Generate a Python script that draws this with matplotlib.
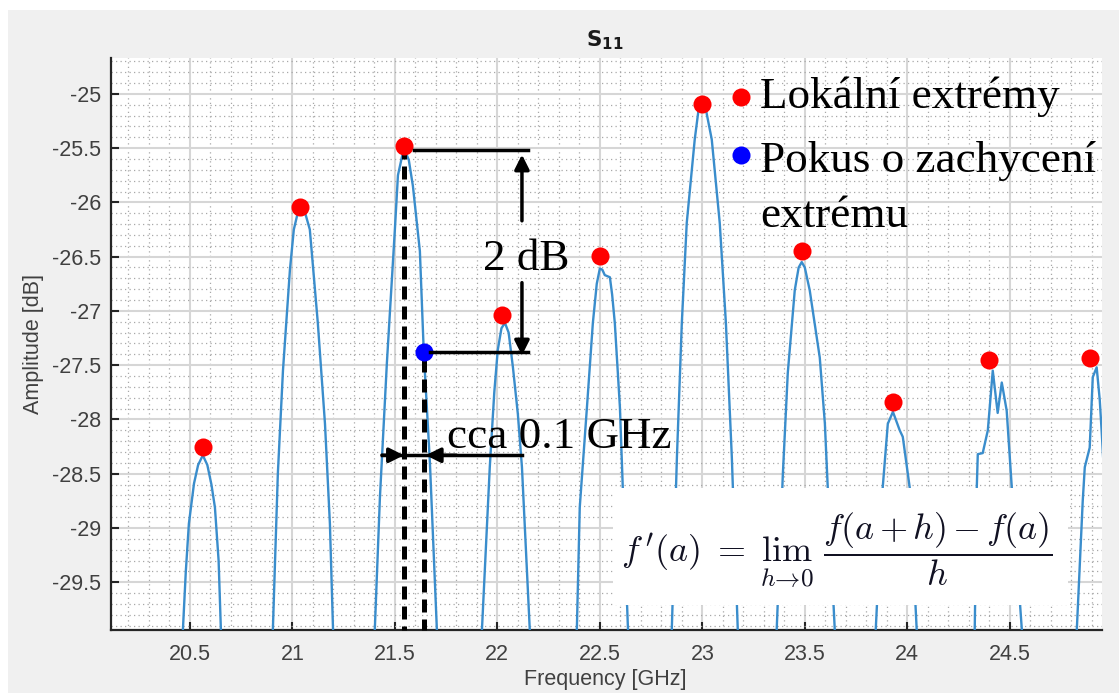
import matplotlib
matplotlib.use("Agg")
import matplotlib.pyplot as plt
from matplotlib.patches import Rectangle
from matplotlib.ticker import MultipleLocator, FixedLocator

# S11 trace (GHz, dB); troughs fall below the axis
freq_ghz = [
    20.40,
    20.466, 20.480, 20.495, 20.520, 20.540, 20.563, 20.585, 20.605, 20.622, 20.640, 20.651,
    20.78,
    20.905, 20.929, 20.954, 20.988, 21.007, 21.032, 21.061, 21.085, 21.124, 21.159, 21.183, 21.198,
    21.30,
    21.402, 21.427, 21.461, 21.500, 21.515, 21.544, 21.568, 21.588, 21.622, 21.641, 21.671, 21.705,
    21.81,
    21.924, 21.963, 21.985, 22.002, 22.020, 22.037, 22.055, 22.076, 22.100, 22.120, 22.159,
    22.27,
    22.388, 22.402, 22.437, 22.466, 22.485, 22.500, 22.512, 22.524, 22.549, 22.560, 22.573,
    22.598, 22.612, 22.637,
    22.74,
    22.851, 22.876, 22.900, 22.924, 22.963, 22.980, 23.002, 23.020, 23.046, 23.085, 23.115,
    23.144, 23.173,
    23.27,
    23.363, 23.393, 23.417, 23.451, 23.470, 23.485, 23.500, 23.524, 23.573, 23.598, 23.612, 23.646,
    23.75,
    23.846, 23.880, 23.905, 23.930, 23.963, 23.978, 24.012, 24.046,
    24.19,
    24.329, 24.339, 24.344, 24.368, 24.393, 24.417, 24.441, 24.461, 24.485, 24.510, 24.559,
    24.69,
    24.827, 24.856, 24.866, 24.890, 24.905, 24.924, 24.939, 24.949, 24.960,
]
amp_db = [
    -33.0,
    -29.93, -29.40, -28.96, -28.59, -28.42, -28.33, -28.42, -28.60, -28.81, -29.30, -29.93,
    -34.0,
    -29.92, -28.50, -27.55, -26.62, -26.25, -26.05, -26.09, -26.25, -27.11, -28.04, -28.96, -29.92,
    -34.0,
    -29.94, -28.72, -27.48, -26.25, -25.75, -25.50, -25.61, -25.85, -26.45, -27.38, -28.40, -29.94,
    -34.0,
    -29.97, -28.44, -27.75, -27.36, -27.16, -27.11, -27.20, -27.52, -27.95, -28.44, -29.97,
    -34.0,
    -29.92, -28.81, -27.89, -27.11, -26.75, -26.61, -26.62, -26.67, -26.69, -26.85, -27.11,
    -27.89, -28.63, -29.92,
    -34.0,
    -29.94, -28.35, -27.11, -26.19, -25.42, -25.17, -25.12, -25.17, -25.42, -26.19, -27.11,
    -28.35, -29.94,
    -34.0,
    -29.93, -28.50, -27.57, -26.81, -26.60, -26.55, -26.60, -26.81, -27.43, -28.04, -28.63, -29.93,
    -34.0,
    -29.94, -28.63, -28.04, -27.93, -28.10, -28.16, -28.63, -29.94,
    -34.0,
    -29.94, -28.63, -28.32, -28.31, -28.10, -27.55, -27.94, -27.66, -27.92, -28.63, -29.94,
    -34.0,
    -29.94, -28.75, -28.44, -28.26, -27.61, -27.52, -27.82, -28.13, -28.50,
]

# manually placed markers
peak_f = [20.563, 21.037, 21.544, 22.022, 22.500, 22.998, 23.485, 23.930, 24.400, 24.890]
peak_db = [-28.25, -26.04, -25.48, -27.04, -26.49, -25.09, -26.45, -27.84, -27.45, -27.43]
probe_f = [21.641]
probe_db = [-27.38]

xticks = [20.5, 21, 21.5, 22, 22.5, 23, 23.5, 24, 24.5]
yticks = [-29.5, -29, -28.5, -28, -27.5, -27, -26.5, -26, -25.5, -25]
xlim = (20.115, 24.95)
ylim = (-29.94, -24.67)

legend_text = ["Lokální extrémy", "Pokus o zachycení", "extrému"]
dy_label = "2 dB"
df_label = "cca 0.1 GHz"
formula = r"$f\,'(a) \;=\; \lim_{h\to 0}\ \dfrac{f(a\,+\,h)\,-\,f(a)}{h}$"

serif = "Liberation Serif"
sans = "Liberation Sans"
txt_col = "#404040"
axis_col = "#262626"

fig = plt.figure(figsize=(11.19, 6.93), dpi=100)
fig.patch.set_facecolor("white")
fig.patches.append(Rectangle((8 / 1119, 0), 1, 1 - 10 / 693, transform=fig.transFigure,
                             facecolor="#F0F0F0", edgecolor="none", zorder=-10))

ax = fig.add_axes([111 / 1119, 1 - 630 / 693, (1102 - 111) / 1119, (630 - 58) / 693])
ax.set_facecolor("white")

ax.plot(freq_ghz, amp_db, color="#3A8DCC", lw=1.7, zorder=3)
ax.plot(peak_f, peak_db, "o", color="#FF0000", ms=13, mec="none", zorder=6)
ax.plot(probe_f, probe_db, "o", color="#0000FF", ms=13, mec="none", zorder=6)

ax.set_xlim(*xlim)
ax.set_ylim(*ylim)
ax.xaxis.set_major_locator(FixedLocator(xticks))
ax.yaxis.set_major_locator(FixedLocator(yticks))
ax.set_xticklabels([f"{t:g}" for t in xticks], family=sans)
ax.set_yticklabels([f"{t:g}" for t in yticks], family=sans)
ax.xaxis.set_minor_locator(MultipleLocator(0.1))
ax.yaxis.set_minor_locator(MultipleLocator(0.1))

ax.grid(which="major", color="#D6D6D6", lw=1.5, zorder=0)
ax.grid(which="minor", color="#A8A8A8", lw=0.9, ls=(0, (1, 2.6)), zorder=0)
ax.set_axisbelow(True)

for s in ["top", "right"]:
    ax.spines[s].set_visible(False)
for s in ["left", "bottom"]:
    ax.spines[s].set_color(axis_col)
    ax.spines[s].set_linewidth(1.6)
ax.tick_params(which="major", direction="in", length=6, width=1.5, color=axis_col,
               labelsize=15.5, labelcolor=txt_col)
ax.tick_params(axis="y", pad=7)
ax.tick_params(axis="x", pad=10)
ax.tick_params(which="minor", length=0)

ax.set_xlabel("Frequency [GHz]", fontsize=15.5, color=txt_col, family=sans)
ax.set_ylabel("Amplitude [dB]", fontsize=15.5, color=txt_col, family=sans)
ax.xaxis.set_label_coords(0.4985, -0.068)
ax.yaxis.set_label_coords(-0.068, 0.5)

fig.text(605 / 1119, 1 - 40 / 693, r"$\mathbf{S_{11}}$", ha="center", va="center",
         fontsize=15.5, color="#1a1a1a", math_fontfamily="dejavusans")

# annotation: 2 dB drop between the peak and the probe point
pk_f, pk_db = peak_f[2], peak_db[2]
pr_f, pr_db = probe_f[0], probe_db[0]
bar_end = 22.15
ax.plot([pk_f + 0.05, bar_end], [pk_db - 0.04, pk_db - 0.04], color="k", lw=2.5, zorder=7)
ax.plot([pr_f + 0.03, bar_end], [pr_db, pr_db], color="k", lw=2.5, zorder=7)
arrow = dict(arrowstyle="-|>", color="k", lw=2.5, mutation_scale=22, shrinkA=0, shrinkB=0)
ax.annotate("", xy=(22.12, pk_db - 0.08), xytext=(22.12, -26.17), arrowprops=arrow, zorder=7)
ax.annotate("", xy=(22.12, pr_db - 0.03), xytext=(22.12, -26.74), arrowprops=arrow, zorder=7)
ax.text(22.14, -26.62, dy_label, family=serif, fontsize=32.5, ha="center",
        va="baseline", zorder=8)

# dashed verticals and the 0.1 GHz span
ax.plot([pk_f, pk_f], [pk_db, ylim[0]], color="k", lw=3.6, ls=(0, (2.6, 1.4)),
        zorder=5, clip_on=False)
ax.plot([pr_f, pr_f], [pr_db - 0.06, ylim[0]], color="k", lw=3.6, ls=(0, (2.6, 1.4)),
        zorder=5, clip_on=False)
span_y = -28.33
ax.plot([21.437, 22.12], [span_y, span_y], color="k", lw=2.5, zorder=7)
ax.annotate("", xy=(pk_f, span_y), xytext=(21.437, span_y), arrowprops=arrow, zorder=7)
ax.annotate("", xy=(pr_f + 0.01, span_y), xytext=(21.80, span_y), arrowprops=arrow, zorder=7)
ax.text(21.752, -28.26, df_label, family=serif, fontsize=32.5, ha="left",
        va="baseline", zorder=8)

# legend-like labels
ax.plot([0.636], [0.932], "o", color="#FF0000", ms=13, mec="none",
        transform=ax.transAxes, zorder=8, clip_on=False)
ax.plot([0.636], [0.830], "o", color="#0000FF", ms=13, mec="none",
        transform=ax.transAxes, zorder=8, clip_on=False)
ax.text(0.655, 0.9126, legend_text[0], family=serif, fontsize=32.5,
        transform=ax.transAxes, va="baseline", zorder=8)
ax.text(0.655, 0.801, legend_text[1], family=serif, fontsize=32.5,
        transform=ax.transAxes, va="baseline", zorder=8)
ax.text(0.655, 0.705, legend_text[2], family=serif, fontsize=32.5,
        transform=ax.transAxes, va="baseline", zorder=8)

# formula box
ax.add_patch(Rectangle((0.5066, 0.0437), 0.9657 - 0.5066, 0.248 - 0.0437,
                       transform=ax.transAxes, facecolor="white", edgecolor="none",
                       zorder=9))
ax.text(0.733, 0.14, formula, transform=ax.transAxes, ha="center", va="center",
        fontsize=26, color="#111122", math_fontfamily="cm", zorder=10)

fig.savefig("out.png", dpi=100, facecolor=fig.get_facecolor())
